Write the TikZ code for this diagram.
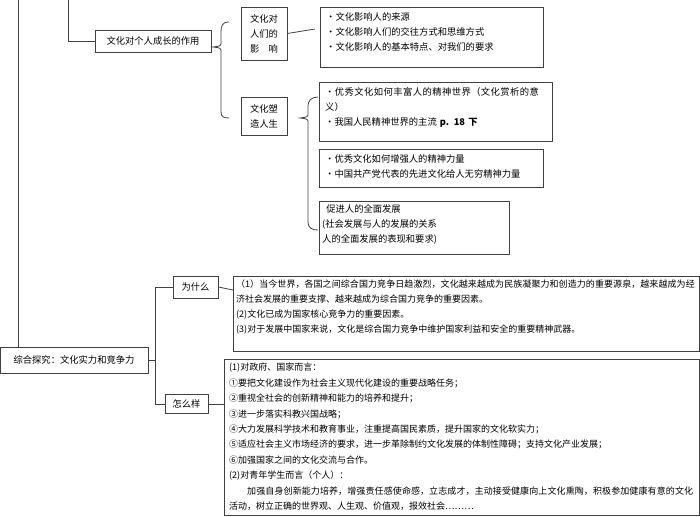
\documentclass[tikz,border=0pt]{standalone}
\usepackage{fontspec}
\setmainfont{Noto Sans CJK SC}
\XeTeXlinebreaklocale "zh"
\XeTeXlinebreakskip=0pt plus 1pt
\begin{document}
\begin{tikzpicture}[x=1pt,y=-1pt,
  bx/.style={draw=black!75,line width=0.8pt,inner sep=0pt},
  tx/.style={anchor=north west,inner sep=0pt,align=left,font=\fontsize{9.3}{15}\selectfont},
  ln/.style={draw=black!75,line width=0.8pt}]
\useasboundingbox (0,0) rectangle (700,516);
% top structure
\node[bx,minimum width=116pt,minimum height=22pt,font=\fontsize{9.3}{10}\selectfont] (gr) at (153,41) {文化对个人成长的作用};
\node[bx,minimum width=46pt,minimum height=53pt,align=center,font=\fontsize{9.3}{15}\selectfont] (yx) at (264,33.5) {文化对\\人们的\\影\quad 响};
\node[bx,minimum width=46pt,minimum height=38pt,align=center,font=\fontsize{9.3}{15}\selectfont] (sz) at (264,116) {文化塑\\造人生};
\draw[bx] (320,7) rectangle (543,67); \node[tx] (l1) at (326,12) {·文化影响人的来源\\·文化影响人们的交往方式和思维方式\\·文化影响人的基本特点、对我们的要求};
\draw[bx] (319,82) rectangle (552,141); \node[tx,text width=222pt] (a1) at (325,87) {·优秀文化如何丰富人的精神世界（文化赏析的意义）\\·我国人民精神世界的主流 \textbf{p. 18 下}};
\draw[bx] (319,149) rectangle (543,187); \node[tx] (b1) at (325,154) {·优秀文化如何增强人的精神力量\\·中国共产党代表的先进文化给人无穷精神力量};
\draw[bx] (319,201) rectangle (509,254); \node[tx] (c1) at (322,204) {\ \ 促进人的全面发展\\(社会发展与人的发展的关系\\人的全面发展的表现和要求)};
\coordinate (t1) at (68,0);
\draw[ln] (t1) |- (gr.west);
\draw[ln] (yx.east) -- (315,29);
% braces
\draw[ln] (229,22) .. controls (222,22) and (221,26) .. (221,32) -- (221,42) .. controls (221,46) .. (213,47) .. controls (221,48) .. (221,52) -- (221,112) .. controls (221,117) and (224,118) .. (229,118);
\draw[ln] (318,97) .. controls (311,97) and (308,101) .. (308,106) -- (308,113) .. controls (308,117) .. (300,118) .. controls (308,119) .. (308,123) -- (308,222) .. controls (308,228) and (312,230) .. (318,230);
% bottom structure
\node[bx,minimum width=148pt,minimum height=26pt,font=\fontsize{9.3}{10}\selectfont] (zh) at (74,360) {综合探究：文化实力和竞争力};
\coordinate (t0) at (18,0);
\draw[ln] (t0) -- (zh.north -| t0);
\node[bx,minimum width=45pt,minimum height=22pt,font=\fontsize{9.3}{10}\selectfont] (ws) at (195.5,287) {为什么};
\node[bx,minimum width=43pt,minimum height=19pt,font=\fontsize{9.3}{10}\selectfont] (zm) at (186.5,404) {怎么样};
\draw[ln] (zh.east) -- (155,360);
\draw[ln] (ws.west) -- (155,287) -- (155,404) -- (zm.west);
\draw[bx] (233,276) rectangle (699,351);
\node[tx,text width=460pt,font=\fontsize{9}{15}\selectfont] (w1) at (236,280) {（1）当今世界，各国之间综合国力竞争日趋激烈，文化越来越成为民族凝聚力和创造力的重要源泉，越来越成为经济社会发展的重要支撑、越来越成为综合国力竞争的重要因素。\\(2)文化已成为国家核心竞争力的重要因素。\\(3)对于发展中国家来说，文化是综合国力竞争中维护国家利益和安全的重要精神武器。};
\draw[ln] (ws.east) -- (233,290);
\draw[bx] (224,359) rectangle (699,515);
\node[tx,text width=466pt,font=\fontsize{9}{15.4}\selectfont] (z1) at (229,363) {(1)对政府、国家而言：\\①要把文化建设作为社会主义现代化建设的重要战略任务；\\②重视全社会的创新精神和能力的培养和提升；\\③进一步落实科教兴国战略；\\④大力发展科学技术和教育事业，注重提高国民素质，提升国家的文化软实力；\\⑤适应社会主义市场经济的要求，进一步革除制约文化发展的体制性障碍；支持文化产业发展；\\⑥加强国家之间的文化交流与合作。\\(2)对青年学生而言（个人）：\\\hspace*{2em}加强自身创新能力培养，增强责任感使命感，立志成才，主动接受健康向上文化熏陶，积极参加健康有意的文化活动，树立正确的世界观、人生观、价值观，报效社会………};
\draw[ln] (zm.east) -- (224,404);
\end{tikzpicture}
\end{document}
